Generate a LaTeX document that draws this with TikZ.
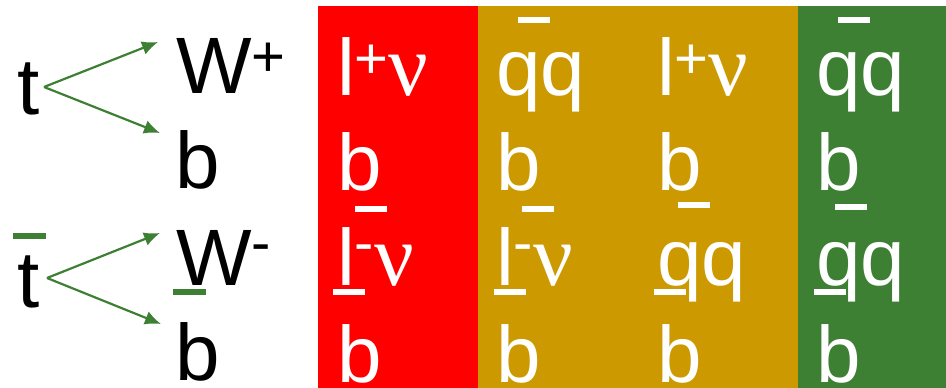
\documentclass[tikz,border=0pt]{standalone}
\usepackage{fontspec}
\usepackage{graphicx}
\setmainfont{Liberation Sans}
\newfontfamily\nufont{Liberation Serif}
\usetikzlibrary{arrows.meta}

\definecolor{lepred}{RGB}{255,0,0}
\definecolor{mixgold}{RGB}{204,153,0}
\definecolor{hadgreen}{RGB}{61,128,51}

\newcommand{\bigsize}{\fontsize{80}{96}\selectfont}
\newcommand{\supp}{\raisebox{17pt}{\fontsize{58}{60}\selectfont +}}
\newcommand{\supm}{\raisebox{23pt}{\fontsize{58}{60}\selectfont -}}
\newcommand{\neutr}{{\nufont\fontsize{88}{96}\selectfont ν}}

\begin{document}
\begin{tikzpicture}[x=1pt, y=-1pt,
  lbl/.style={anchor=base west, inner sep=0pt, font=\bigsize},
  wlbl/.style={lbl, text=white},
  decay/.style={-{Latex[length=16pt,width=14pt]}, line width=2.2pt, hadgreen}]
\useasboundingbox (0,0) rectangle (946,388);

% Decay of t and tbar
\node[lbl] (t)    at (17,114) {t};
\node[lbl] (wp)   at (176,93) {W\supp};
\node[lbl] (b)    at (175,188) {b};
\node[lbl] (tbar) at (17,307) {t};
\node[lbl] (wm)   at (176,285) {W\supm};
\node[lbl] (bbar) at (175,380) {b};

\coordinate (t-out)    at (44,87);
\coordinate (wp-in)    at (158,42);
\coordinate (b-in)     at (160,133);
\coordinate (tbar-out) at (47,278);
\coordinate (wm-in)    at (160,233);
\coordinate (bbar-in)  at (161,324);

\draw[decay] (t-out) -- (wp-in);
\draw[decay] (t-out) -- (b-in);
\draw[decay] (tbar-out) -- (wm-in);
\draw[decay] (tbar-out) -- (bbar-in);

% Green bars
\fill[hadgreen] (13,233) rectangle ++(33,6);
\fill[hadgreen] (173,289) rectangle ++(33,6);

% Channels
\fill[lepred]   (318,6) rectangle (478,388);
\fill[mixgold]  (478,6) rectangle (798,388);
\fill[hadgreen] (798,6) rectangle (946,388);

\foreach \c/\x/\up/\dn in {a/337/{l\supp\neutr}/{l\supm\neutr},
                           b/496/qq/{l\supm\neutr},
                           c/657/{l\supp\neutr}/qq,
                           d/816/qq/qq} {
  \node[wlbl] (\c1) at (\x,95)  {\up};
  \node[wlbl] (\c2) at (\x,190) {b};
  \node[wlbl] (\c3) at (\x,285) {\dn};
  \node[wlbl] (\c4) at (\x,382) {b};
}

% White bars
\foreach \xa/\ya in {355/206, 333/289, 518/17, 522/206, 494/289,
                     678/202, 654/289, 838/17, 835/204, 814/289} {
  \fill[white] (\xa,\ya) rectangle ++(32,6);
}
\end{tikzpicture}
\end{document}
